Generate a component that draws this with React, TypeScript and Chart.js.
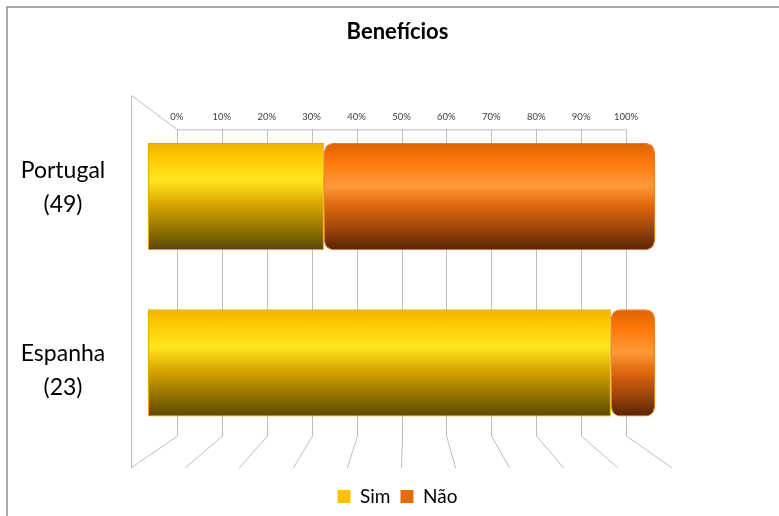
import React, { useEffect, useRef } from "react";
import { Chart, registerables } from "chart.js";

Chart.register(...registerables);

const title = "Benefícios";
const categories: string[][] = [["Portugal", "(49)"], ["Espanha", "(23)"]];
const seriesNames = ["Sim", "Não"];
const simPct = [34.7, 91.3];
const naoPct = [65.3, 8.7];
const tickValues = [0, 10, 20, 30, 40, 50, 60, 70, 80, 90, 100];

const FONT = "Lato, 'Open Sans', sans-serif";
const BAR_PCT = 0.645;

const simStops: [number, string][] = [
  [0, "#EDB000"],
  [0.12, "#FFC600"],
  [0.35, "#FFE61E"],
  [0.55, "#DDAA00"],
  [0.78, "#9A7800"],
  [1, "#584600"],
];
const naoStops: [number, string][] = [
  [0, "#DC6200"],
  [0.18, "#FF780A"],
  [0.4, "#FF9A3A"],
  [0.58, "#E0680E"],
  [0.8, "#9E4608"],
  [1, "#572303"],
];

function makeGradient(stops: [number, string][], fallback: string) {
  return (ctx: any) => {
    const chart = ctx.chart;
    if (!chart.chartArea || !chart.scales || !chart.scales.y) return fallback;
    const y = chart.scales.y;
    const idx = ctx.dataIndex ?? 0;
    const yc = y.getPixelForValue(idx);
    const step = Math.abs(y.getPixelForValue(1) - y.getPixelForValue(0));
    const h = step * BAR_PCT;
    const g = chart.ctx.createLinearGradient(0, yc - h / 2, 0, yc + h / 2);
    stops.forEach(([o, c]) => g.addColorStop(o, c));
    return g;
  };
}

const wallPlugin = {
  id: "wall3d",
  beforeDatasetsDraw(chart: any) {
    const { ctx, chartArea } = chart;
    const x = chart.scales.x;
    const y = chart.scales.y;
    const cx = x.getPixelForValue(50);
    const kBack = 0.886;
    const kFront = 1.067;
    const backTop = chartArea.top + 16;
    const backBottom = chartArea.bottom - 10;
    const frontTop = chartArea.top - 18;
    const frontBottom = chartArea.bottom + 22;
    const bx = (v: number) => cx + (x.getPixelForValue(v) - cx) * kBack;
    const fx = (v: number) => cx + (x.getPixelForValue(v) - cx) * kFront;
    ctx.save();
    ctx.strokeStyle = "#8C8C8C";
    ctx.lineWidth = 1.5;
    ctx.beginPath();
    ctx.moveTo(7, chart.height);
    ctx.lineTo(7, 7);
    ctx.lineTo(chart.width, 7);
    ctx.stroke();

    ctx.strokeStyle = "#BEBEBE";
    ctx.lineWidth = 1;
    ctx.beginPath();
    tickValues.forEach((v) => {
      const b = Math.round(bx(v)) + 0.5;
      ctx.moveTo(b, backTop);
      ctx.lineTo(b, backBottom);
      ctx.lineTo(fx(v), frontBottom);
    });
    ctx.moveTo(bx(0), backTop + 0.5);
    ctx.lineTo(bx(100), backTop + 0.5);
    const f0 = Math.round(fx(0)) + 0.5;
    ctx.moveTo(f0, frontBottom);
    ctx.lineTo(f0, frontTop);
    ctx.lineTo(bx(0), backTop);
    ctx.stroke();

    // value axis labels on the back wall
    ctx.fillStyle = "#404040";
    ctx.font = `9.5px ${FONT}`;
    ctx.textAlign = "center";
    ctx.textBaseline = "middle";
    tickValues.forEach((v) => {
      ctx.fillText(v + "%", bx(v), backTop - 12);
    });

    // category labels, projected onto the front plane
    const cy = (y.getPixelForValue(0) + y.getPixelForValue(categories.length - 1)) / 2 + 5.5;
    const kLab = 1.1;
    const lineH = 34;
    ctx.fillStyle = "#000";
    ctx.font = `23px ${FONT}`;
    const lx = chartArea.left - 85;
    categories.forEach((lines, i) => {
      const yc = cy + (y.getPixelForValue(i) - cy) * kLab;
      lines.forEach((t, j) => {
        ctx.fillText(t, lx, yc + (j - (lines.length - 1) / 2) * lineH);
      });
    });
    ctx.restore();
  },
};

export default function App() {
  const ref = useRef<HTMLCanvasElement | null>(null);
  useEffect(() => {
    if (!ref.current) return;
    const chart = new Chart(ref.current, {
      type: "bar",
      data: {
        labels: categories,
        datasets: [
          {
            label: seriesNames[0],
            data: simPct,
            backgroundColor: makeGradient(simStops, "#FFC000"),
            borderColor: "#E9A800",
            borderWidth: 1,
            borderRadius: 9,
            borderSkipped: false,
            barPercentage: BAR_PCT,
            categoryPercentage: 1,
          },
          {
            label: seriesNames[1],
            data: naoPct,
            backgroundColor: makeGradient(naoStops, "#E46C0A"),
            borderColor: "#F07A1C",
            borderWidth: 1,
            borderRadius: 9,
            borderSkipped: false,
            barPercentage: BAR_PCT,
            categoryPercentage: 1,
          },
        ],
      },
      options: {
        indexAxis: "y",
        responsive: false,
        animation: false,
        layout: { padding: { left: 16, right: 0, top: 0, bottom: 0 } },
        scales: {
          x: {
            stacked: true,
            min: 0,
            max: 100,
            position: "bottom",
            grid: { display: false },
            border: { display: false },
            ticks: { display: false },
            afterFit: (s: any) => {
              s.height = 31;
            },
          },
          y: {
            stacked: true,
            position: "left",
            grid: { display: false },
            border: { display: false },
            ticks: { display: false },
            afterFit: (s: any) => {
              s.width = 132;
            },
          },
          yRight: {
            type: "linear",
            position: "right",
            display: true,
            grid: { display: false },
            border: { display: false },
            ticks: { display: false },
            afterFit: (s: any) => {
              s.width = 124;
            },
          },
        },
        plugins: {
          title: {
            display: true,
            text: title,
            color: "#000",
            font: { family: FONT, size: 22, weight: "bold", lineHeight: 1.2 },
            padding: { top: 19, bottom: 68 },
          },
          legend: {
            position: "bottom",
            labels: {
              color: "#000",
              font: { family: FONT, size: 19 },
              boxWidth: 13,
              boxHeight: 13,
              padding: 10,
              generateLabels: () => [
                { text: seriesNames[0], fillStyle: "#FFC000", strokeStyle: "#FFC000", lineWidth: 0, datasetIndex: 0 },
                { text: seriesNames[1], fillStyle: "#E46C0A", strokeStyle: "#E46C0A", lineWidth: 0, datasetIndex: 1 },
              ],
            },
          },
          tooltip: { enabled: false },
        },
      },
      plugins: [wallPlugin],
    } as any);
    return () => chart.destroy();
  }, []);
  return (
    <div style={{ position: "fixed", left: 0, top: 0, width: 779, height: 516, background: "#fff" }}>
      <canvas ref={ref} width={779} height={516} style={{ display: "block" }} />
    </div>
  );
}
